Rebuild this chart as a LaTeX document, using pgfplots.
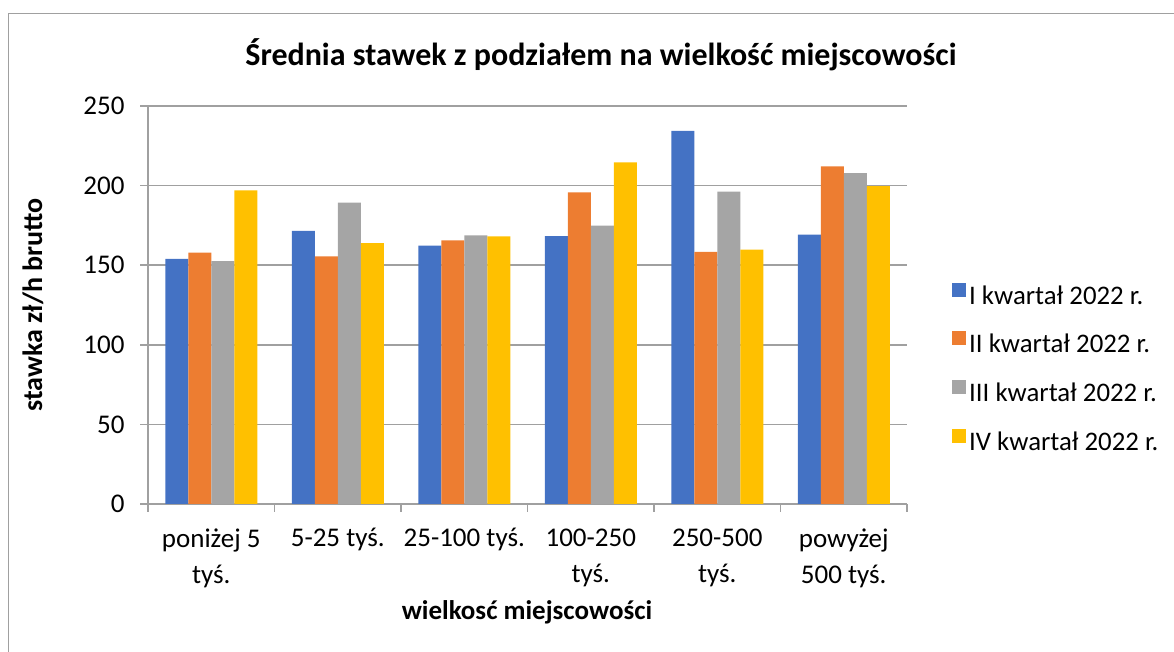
\documentclass[border=0pt]{standalone}
\usepackage{fontspec}
\setmainfont{Carlito}
\usepackage{pgfplots}
\pgfplotsset{compat=1.18}
\definecolor{cI}{HTML}{4472C4}
\definecolor{cII}{HTML}{ED7D31}
\definecolor{cIII}{HTML}{A5A5A5}
\definecolor{cIV}{HTML}{FFC000}
\definecolor{gridc}{HTML}{A0A0A0}
\begin{document}
\begin{tikzpicture}
\useasboundingbox (0pt,0pt) rectangle (1174pt,652pt);
\draw[gridc, line width=1.5pt] (8.7pt,0pt) -- (8.7pt,638.7pt) -- (1174pt,638.7pt);
\node[font=\fontsize{32}{38}\selectfont\bfseries] at (601pt,597pt) {Średnia stawek z podziałem na wielkość miejscowości};
\node[font=\fontsize{28}{33}\selectfont\bfseries, rotate=90] at (33pt,347pt) {stawka zł/h brutto};
\node[font=\fontsize{27}{32}\selectfont\bfseries] at (527pt,40pt) {wielkosć miejscowości};
\begin{axis}[
  at={(148pt,148pt)}, anchor=south west,
  scale only axis, width=759pt, height=398pt,
  ybar=0pt, bar width=23pt,
  xmin=-0.5, xmax=5.5, ymin=0, ymax=250,
  enlargelimits=false,
  xtick={0,1,2,3,4,5},
  xticklabels={{poniżej 5\\tyś.},{5-25 tyś.},{25-100 tyś.},{100-250\\tyś.},{250-500\\tyś.},{powyżej\\500 tyś.}},
  minor xtick={-0.5,0.5,1.5,2.5,3.5,4.5,5.5},
  major x tick style={draw=none},
  minor x tick style={gridc, line width=1.5pt},
  ytick={0,50,100,150,200,250},
  y tick style={gridc, line width=1.5pt},
  tick align=outside,
  major tick length=8pt, minor tick length=8pt,
  ymajorgrids, grid style={gridc, line width=1.5pt},
  axis x line*=bottom, axis y line*=left,
  axis line style={-, gridc, line width=1.5pt},
  /pgf/number format/assume math mode=true,
  tick label style={font=\fontsize{27}{36}\selectfont},
  xticklabel style={align=center, yshift=-13pt},
  yticklabel style={xshift=-12pt},
  legend style={at={(1.0553,0.34)}, anchor=west, draw=none,
    font=\fontsize{26.8}{31}\selectfont, row sep=22.5pt,
    nodes={inner sep=3pt}},
  legend cell align=left,
  legend image code/.code={\fill[#1] (0pt,-1pt) rectangle (14pt,13pt);},
]
\addplot[fill=cI, draw=none] coordinates {(0,153.9) (1,171.5) (2,162.3) (3,168.3) (4,234.3) (5,169.2)};
\addplot[fill=cII, draw=none] coordinates {(0,157.9) (1,155.6) (2,165.6) (3,195.8) (4,158.3) (5,212.1)};
\addplot[fill=cIII, draw=none] coordinates {(0,152.6) (1,189.3) (2,168.8) (3,174.8) (4,196.2) (5,207.9)};
\addplot[fill=cIV, draw=none] coordinates {(0,197.0) (1,163.9) (2,168.1) (3,214.6) (4,159.8) (5,199.7)};
\legend{I kwartał 2022 r., II kwartał 2022 r., III kwartał 2022 r., IV kwartał 2022 r.}
\end{axis}
\end{tikzpicture}
\end{document}
